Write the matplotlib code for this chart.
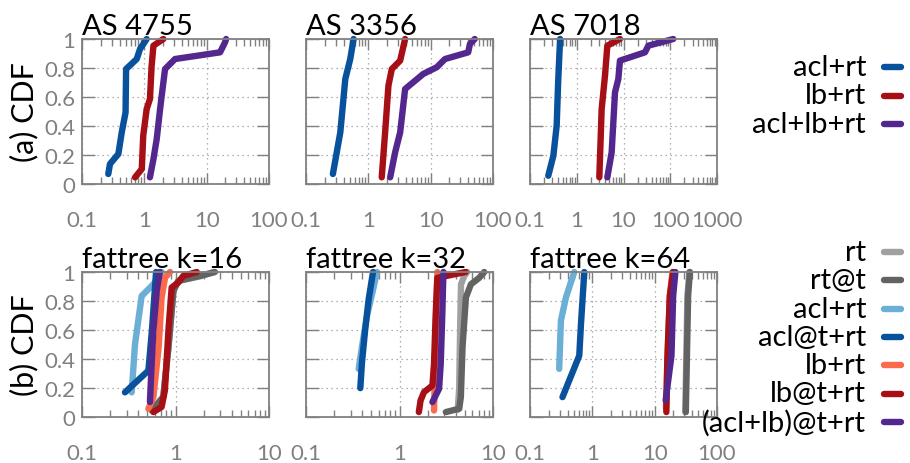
import matplotlib
matplotlib.use("Agg")
import matplotlib.pyplot as plt
from matplotlib.lines import Line2D
from matplotlib.ticker import FixedLocator, LogLocator, NullFormatter, FuncFormatter

plt.rcParams['font.family'] = ['Lato', 'DejaVu Sans']

# series order and colours (top row / bottom row)
top_series = ["acl+rt", "lb+rt", "acl+lb+rt"]
top_colors = ["#08519c", "#a50f15", "#54278f"]

bottom_series = ["rt", "rt@t", "acl+rt", "acl@t+rt", "lb+rt", "lb@t+rt", "(acl+lb)@t+rt"]
bottom_colors = ["#a0a0a0", "#636363", "#6baed6", "#08519c", "#fb6a4a", "#a50f15", "#54278f"]

# CDF curves: series -> (x values, cumulative fraction)
as4755 = {
    "acl+rt": ([0.264, 0.281, 0.383, 0.434, 0.50, 0.51, 0.755, 0.853, 1.09],
               [0.069, 0.138, 0.207, 0.356, 0.494, 0.793, 0.862, 0.931, 1.0]),
    "lb+rt": ([0.71, 0.91, 0.96, 1.09, 1.23, 1.31, 1.40, 2.02],
              [0.046, 0.103, 0.333, 0.517, 0.586, 0.816, 0.954, 1.0]),
    "acl+lb+rt": ([1.23, 1.40, 1.58, 1.79, 1.9, 2.15, 3.11, 16.4, 19.7, 20.5],
                  [0.046, 0.172, 0.31, 0.517, 0.609, 0.793, 0.862, 0.908, 0.977, 1.0]),
}
as3356 = {
    "acl+rt": ([0.27, 0.355, 0.427, 0.513, 0.58],
               [0.069, 0.356, 0.724, 0.862, 1.0]),
    "lb+rt": ([1.64, 1.86, 2.10, 2.38, 3.24, 3.89],
              [0.046, 0.356, 0.678, 0.793, 0.851, 1.0]),
    "acl+lb+rt": ([2.24, 2.69, 3.24, 3.89, 7.6, 12.5, 17, 40, 42.7, 51],
                  [0.046, 0.218, 0.356, 0.655, 0.759, 0.805, 0.862, 0.908, 0.966, 1.0]),
}
as7018 = {
    "acl+rt": ([0.246, 0.316, 0.372, 0.40, 0.44],
               [0.057, 0.195, 0.402, 0.701, 1.0]),
    "lb+rt": ([3.04, 3.41, 4.02, 4.51, 8.4],
              [0.046, 0.517, 0.747, 0.954, 1.0]),
    "acl+lb+rt": ([4.51, 5.58, 6.58, 7.75, 8.4, 28.8, 34, 116],
                  [0.046, 0.218, 0.632, 0.724, 0.851, 0.908, 0.954, 1.0]),
}
fattree16 = {
    "rt": ([0.56, 0.74, 0.84, 0.95, 1.07, 1.83, 2.6],
           [0.05, 0.14, 0.48, 0.87, 0.94, 0.97, 1.0]),
    "rt@t": ([0.556, 0.74, 0.84, 0.95, 1.07, 1.83, 2.64],
             [0.045, 0.137, 0.48, 0.87, 0.938, 0.973, 1.0]),
    "acl+rt": ([0.34, 0.369, 0.435, 0.579, 0.71],
               [0.17, 0.503, 0.835, 0.915, 1.0]),
    "acl@t+rt": ([0.288, 0.513, 0.56, 0.62],
                 [0.17, 0.32, 0.6, 1.0]),
    "lb+rt": ([0.513, 0.58, 0.66, 0.71, 0.773, 0.873],
              [0.057, 0.137, 0.48, 0.824, 0.96, 1.0]),
    "lb@t+rt": ([0.58, 0.71, 0.77, 0.84, 0.91, 1.07, 1.21, 1.69],
                [0.034, 0.069, 0.183, 0.595, 0.893, 0.927, 0.973, 1.0]),
    "(acl+lb)@t+rt": ([0.533, 0.556, 0.58, 0.63, 0.68],
                      [0.103, 0.366, 0.595, 0.87, 1.0]),
}
fattree32 = {
    "rt": ([4.2, 4.35, 4.45, 4.55, 4.9, 5.3],
           [0.05, 0.2, 0.6, 0.915, 0.97, 1.0]),
    "rt@t": ([3.13, 4.35, 4.53, 4.72, 5.13, 5.8, 7.13, 8.06],
             [0.034, 0.057, 0.137, 0.48, 0.824, 0.915, 0.96, 1.0]),
    "acl+rt": ([0.366, 0.40, 0.45, 0.51, 0.575],
               [0.332, 0.5, 0.7, 0.85, 1.0]),
    "acl@t+rt": ([0.381, 0.397, 0.43, 0.468, 0.521],
                 [0.199, 0.378, 0.606, 0.812, 1.0]),
    "lb+rt": ([2.34, 2.36, 2.44, 2.54],
              [0.045, 0.137, 0.595, 1.0]),
    "lb@t+rt": ([1.61, 1.68, 1.83, 2.25, 2.34, 2.44, 2.54, 3.3, 5.1],
                [0.034, 0.114, 0.172, 0.217, 0.366, 0.71, 0.96, 0.975, 1.0]),
    "(acl+lb)@t+rt": ([2.25, 2.65, 2.76, 2.87, 2.95],
                      [0.103, 0.195, 0.366, 0.71, 1.0]),
}
fattree64 = {
    "rt": ([31, 33.5, 36],
           [0.034, 0.835, 1.0]),
    "rt@t": ([31.6, 34.4, 36.7],
             [0.034, 0.835, 1.0]),
    "acl+rt": ([0.294, 0.313, 0.377, 0.513],
               [0.332, 0.664, 0.824, 1.0]),
    "acl@t+rt": ([0.332, 0.617, 0.657, 0.743],
                 [0.137, 0.423, 0.64, 1.0]),
    "lb+rt": ([15.2, 16, 17.5, 19.3],
              [0.06, 0.4, 0.835, 1.0]),
    "lb@t+rt": ([15.4, 16, 17.5, 19.8],
                [0.034, 0.4, 0.835, 1.0]),
    "(acl+lb)@t+rt": ([15.0, 18.6, 19.8, 21.5],
                      [0.114, 0.423, 0.835, 1.0]),
}

top_titles = ["AS 4755", "AS 3356", "AS 7018"]
top_xmax = [100, 100, 1000]
bottom_titles = ["fattree k=16", "fattree k=32", "fattree k=64"]
bottom_xmax = [10, 10, 100]
yticks = [0, 0.2, 0.4, 0.6, 0.8, 1]
ytick_labels = ["0", "0.2", "0.4", "0.6", "0.8", "1"]

W, H = 910, 464
fig = plt.figure(figsize=(W / 100, H / 100), dpi=100)
frame_gray = "#808080"


def make_axes(px_left, px_top, xmax, title, show_y):
    ax = fig.add_axes([px_left / W, 1 - (px_top + 145) / H, 187 / W, 145 / H])
    ax.set_xscale("log")
    ax.set_xlim(0.1, xmax)
    ax.set_ylim(0, 1)
    decades = [10.0 ** k for k in range(-1, 4) if 10.0 ** k <= xmax]
    ax.xaxis.set_major_locator(FixedLocator(decades))
    ax.xaxis.set_major_formatter(FuncFormatter(lambda v, p: "%g" % v))
    ax.xaxis.set_minor_locator(LogLocator(base=10, subs=range(2, 10)))
    ax.xaxis.set_minor_formatter(NullFormatter())
    ax.set_yticks(yticks)
    ax.set_yticklabels(ytick_labels if show_y else [])
    ax.tick_params(which="both", direction="in", top=True, right=True,
                   color=frame_gray, labelcolor=frame_gray, labelsize=16)
    ax.tick_params(axis="x", which="major", length=8, width=1, pad=19)
    ax.tick_params(axis="x", which="minor", length=5, width=1)
    ax.tick_params(axis="y", which="major", length=9, width=1, pad=5)
    ax.grid(True, which="major", linestyle=(0, (1, 3)), color="#999999", linewidth=0.9)
    for s in ax.spines.values():
        s.set_color(frame_gray)
        s.set_linewidth(1.3)
    ax.text(0, 1.0, title, transform=ax.transAxes, ha="left", va="bottom",
            fontsize=21, color="black")
    return ax


def draw_curves(ax, data, names, colors):
    for name, c in zip(names, colors):
        xs, ys = data[name]
        ax.plot(xs, ys, color=c, linewidth=4.6, solid_capstyle="round",
                solid_joinstyle="round", clip_on=False)


col_left = [82, 306, 530]
for i, d in enumerate([as4755, as3356, as7018]):
    ax = make_axes(col_left[i], 40, top_xmax[i], top_titles[i], i == 0)
    draw_curves(ax, d, top_series, top_colors)
    if i == 0:
        ax.set_ylabel("(a) CDF", fontsize=22, labelpad=4)

for i, d in enumerate([fattree16, fattree32, fattree64]):
    ax = make_axes(col_left[i], 273, bottom_xmax[i], bottom_titles[i], i == 0)
    draw_curves(ax, d, bottom_series, bottom_colors)
    if i == 0:
        ax.set_ylabel("(b) CDF", fontsize=22, labelpad=4)


# legends: right-aligned labels with a short line sample after each
def side_legend(names, colors, y_first, step):
    for k, (name, c) in enumerate(zip(names, colors)):
        yc = 1 - (y_first + k * step) / H
        fig.text(866 / W, yc, name, ha="right", va="center", fontsize=21)
        fig.add_artist(Line2D([884 / W, 901 / W], [yc, yc], color=c,
                              linewidth=4.6, solid_capstyle="round"))


side_legend(top_series, top_colors, 68, 28.5)
side_legend(bottom_series, bottom_colors, 253, 28.3)

fig.savefig("out.png", dpi=100)
